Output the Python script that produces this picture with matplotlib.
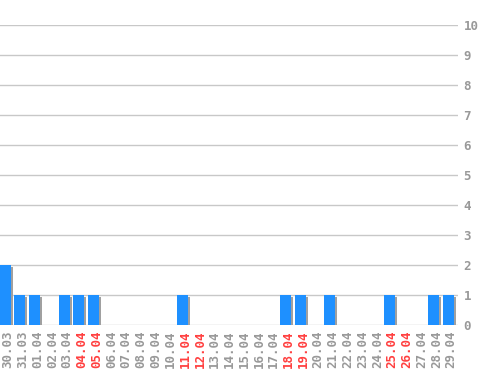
import matplotlib
matplotlib.use("Agg")
import matplotlib.pyplot as plt
import matplotlib.transforms as mtransforms

dates = ["30.03", "31.03", "01.04", "02.04", "03.04", "04.04", "05.04", "06.04",
         "07.04", "08.04", "09.04", "10.04", "11.04", "12.04", "13.04", "14.04",
         "15.04", "16.04", "17.04", "18.04", "19.04", "20.04", "21.04", "22.04",
         "23.04", "24.04", "25.04", "26.04", "27.04", "28.04", "29.04"]
values = [2, 1, 1, 0, 1, 1, 1, 0, 0, 0, 0, 0, 1, 0, 0, 0,
          0, 0, 0, 1, 1, 0, 1, 0, 0, 0, 1, 0, 0, 1, 1]
weekends = ["04.04", "05.04", "11.04", "12.04", "18.04", "19.04", "25.04", "26.04"]
yticks = list(range(0, 11))

W, H = 498, 370
fig = plt.figure(figsize=(W / 100, H / 100), dpi=100)
ax = fig.add_axes([0, (H - 325) / H, 458 / W, 300 / H])

x = list(range(len(dates)))
bw = 11 / 14.77
shadow = ax.transData + mtransforms.ScaledTranslation(2 / 100, -2 / 100, fig.dpi_scale_trans)
ax.bar(x, values, width=bw, color="#a0a0a0", transform=shadow, zorder=2, linewidth=0)
ax.bar(x, values, width=bw, color="#1e90ff", zorder=3, linewidth=0)

ax.set_xlim(-5 / 14.77, (458 - 5) / 14.77)
ax.set_ylim(0, 10)
ax.set_yticks(yticks)
ax.yaxis.tick_right()
ax.grid(axis="y", color="#c8c8c8", linewidth=1, zorder=1)
ax.tick_params(axis="y", length=0, pad=4, labelsize=9, labelcolor="#999999")
for t in ax.get_yticklabels():
    t.set_fontfamily("DejaVu Sans Mono")
    t.set_fontweight("bold")

ax.set_xticks(x)
ax.set_xticklabels(dates, rotation=90, fontfamily="DejaVu Sans Mono",
                   fontweight="bold", fontsize=9)
ax.tick_params(axis="x", length=0, pad=4)
off = mtransforms.ScaledTranslation(3 / 100, 0, fig.dpi_scale_trans)
for t, d in zip(ax.get_xticklabels(), dates):
    t.set_color("#ff4040" if d in weekends else "#999999")
    t.set_transform(t.get_transform() + off)

for s in ax.spines.values():
    s.set_visible(False)

fig.savefig("out.png", dpi=100)
